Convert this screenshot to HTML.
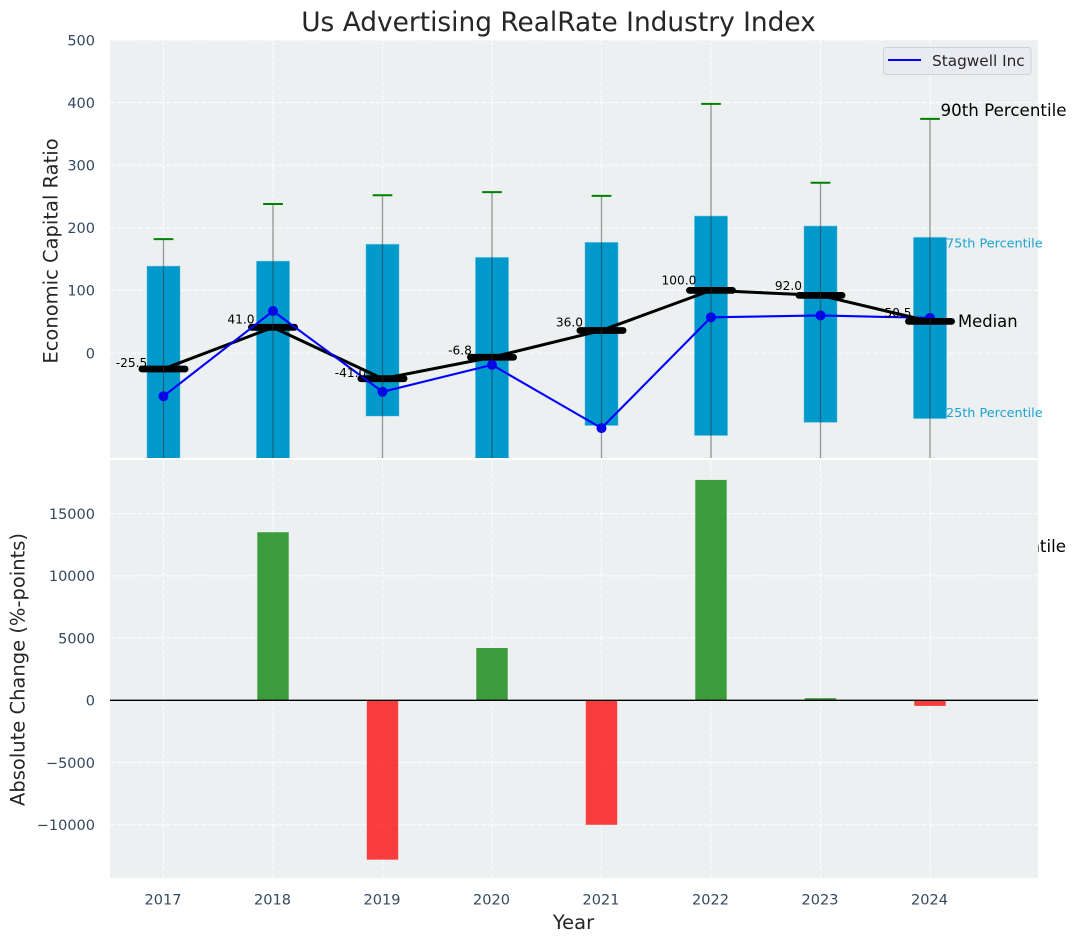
<!DOCTYPE html>
<html>
<head>
<meta charset="utf-8">
<title>Us Advertising RealRate Industry Index</title>
<style>
html,body{margin:0;padding:0;background:#fff;width:1076px;height:942px;overflow:hidden}
svg{display:block;font-family:"DejaVu Sans","Liberation Sans",sans-serif}
</style>
</head>
<body>
<svg id="chart" xmlns="http://www.w3.org/2000/svg" width="1076" height="942" viewBox="0 0 1076 942">
  <defs><clipPath id="top-clip"><rect x="110" y="40" width="928" height="418"/></clipPath></defs>
  <rect x="0" y="0" width="1076" height="942" fill="#ffffff"/>
  <text x="558.5" y="31" text-anchor="middle" font-size="26.4" fill="#262626">Us Advertising RealRate Industry Index</text>
  <g id="top-panel"></g>
  <g id="bottom-panel"></g>
  <text transform="translate(57.5,251) rotate(-90)" text-anchor="middle" font-size="19.5" fill="#262626">Economic Capital Ratio</text>
  <text transform="translate(24.5,669.5) rotate(-90)" text-anchor="middle" font-size="19.5" fill="#262626">Absolute Change (%-points)</text>
  <text x="573.5" y="929" text-anchor="middle" font-size="19.5" fill="#262626">Year</text>
</svg>
<script>
const years = [2017, 2018, 2019, 2020, 2021, 2022, 2023, 2024];
const p90 = [182, 238, 252, 257, 251, 398, 272, 374];
const p75 = [139, 147, 174, 153, 177, 219, 203, 185];
const medians = [-25.5, 41, -41, -6.8, 36, 100, 92, 50.5];
const p25 = [-190, -180, -101, -185, -116, -132, -111, -105];
const p10 = [-300, -300, -300, -300, -300, -300, -300, -300];
const companyValues = [-69, 67, -62, -19, -120, 57, 60, 56];
const changeValues = [null, 13500, -12800, 4200, -10000, 17700, 170, -450];
const topTicks = [0, 100, 200, 300, 400, 500];
const bottomTicks = [-10000, -5000, 0, 5000, 10000, 15000];
const seriesName = 'Stagwell Inc';

const NS = 'http://www.w3.org/2000/svg';
const L = 110, R = 1038;
const TT = 40, TB = 458, BT = 460, BB = 878;
const BOX_W = 0.305, BAR_W = 0.287, CAP_W = 0.09, MED_W = 0.197;
const xPerYear = 109.5;
const x = y => 163.5 + xPerYear * (y - 2017);
const yTop = v => 353 - 0.626 * v;
const yBot = v => 700.3 - 0.01245 * v;
const fmt = v => String(v).replace('-', '\u2212');

function add(parent, tag, attrs, text) {
  const el = document.createElementNS(NS, tag);
  for (const k in attrs) el.setAttribute(k, attrs[k]);
  if (text !== undefined) el.textContent = text;
  parent.appendChild(el);
  return el;
}

function mark(el, name) {
  
  
  return el;
}

const topPanel = document.getElementById('top-panel');
const bottomPanel = document.getElementById('bottom-panel');

/* ---------- top panel background and grid ---------- */
mark(add(topPanel, 'rect', {x: L, y: TT, width: R - L, height: TB - TT, fill: '#ecf0f1'}), 'top-plot-area');
topTicks.forEach(t => {
  mark(add(topPanel, 'line', {x1: L, x2: R, y1: yTop(t), y2: yTop(t), stroke: '#fff', 'stroke-opacity': 0.85, 'stroke-width': 1.1, 'stroke-dasharray': '5 2'}), 'top-grid-line-' + t);
  mark(add(topPanel, 'text', {x: 95, y: yTop(t) + 5.3, 'text-anchor': 'end', 'font-size': 14.5, fill: '#34495e'}, fmt(t)), 'top-y-tick-' + t);
});
years.forEach(y => {
  mark(add(topPanel, 'line', {x1: x(y), x2: x(y), y1: TT, y2: TB, stroke: '#fff', 'stroke-opacity': 0.85, 'stroke-width': 1.1, 'stroke-dasharray': '5 2'}), 'top-grid-vertical-' + y);
});

/* ---------- percentile boxes ---------- */
const plot = add(topPanel, 'g', {'clip-path': 'url(#top-clip)'});
mark(plot, 'percentile-series');
years.forEach((y, i) => {
  const w = BOX_W * xPerYear;
  mark(add(plot, 'rect', {x: x(y) - w / 2, y: yTop(p75[i]), width: w, height: yTop(p25[i]) - yTop(p75[i]), fill: '#0099cc', stroke: '#a8d8ea', 'stroke-width': 0.6}), 'percentile-box-' + y);
});

/* ---------- median connector and bars ---------- */
const medPts = years.map((y, i) => x(y) + ',' + yTop(medians[i]));
mark(add(plot, 'polyline', {points: medPts.slice(0, 7).join(' '), fill: 'none', stroke: '#000', 'stroke-width': 3}), 'median-line');
years.forEach((y, i) => {
  if (i === years.length - 1) return;
  const w = MED_W * xPerYear;
  mark(add(plot, 'line', {x1: x(y) - w, x2: x(y) + w, y1: yTop(medians[i]), y2: yTop(medians[i]), stroke: '#000', 'stroke-width': 6.8, 'stroke-linecap': 'round'}), 'median-bar-' + y);
});
years.forEach((y, i) => {
  mark(add(topPanel, 'text', {x: x(y) - 32, y: yTop(medians[i]) - 2.9 - 0.028 * medians[i], 'text-anchor': 'middle', 'font-size': 12.2, fill: '#000'}, medians[i].toFixed(1)), 'median-value-' + y);
});

/* ---------- company series ---------- */
mark(add(plot, 'polyline', {points: years.map((y, i) => x(y) + ',' + yTop(companyValues[i])).join(' '), fill: 'none', stroke: '#0000ff', 'stroke-width': 2.1}), 'company-line');
years.forEach((y, i) => {
  mark(add(plot, 'circle', {cx: x(y), cy: yTop(companyValues[i]), r: 5, fill: '#0000ff'}), 'company-point-' + y);
});

/* ---------- last median segment sits above the company series ---------- */
mark(add(plot, 'polyline', {points: medPts.slice(6).join(' '), fill: 'none', stroke: '#000', 'stroke-width': 3}), 'median-line-last-segment');
{
  const i = years.length - 1, w = MED_W * xPerYear;
  mark(add(plot, 'line', {x1: x(years[i]) - w, x2: x(years[i]) + w, y1: yTop(medians[i]), y2: yTop(medians[i]), stroke: '#000', 'stroke-width': 6.8, 'stroke-linecap': 'round'}), 'median-bar-' + years[i]);
}

/* ---------- whiskers and caps ---------- */
years.forEach((y, i) => {
  mark(add(plot, 'line', {x1: x(y), x2: x(y), y1: yTop(p90[i]), y2: yTop(p10[i]), stroke: '#333', 'stroke-opacity': 0.5, 'stroke-width': 1.3}), 'whisker-' + y);
  const c = CAP_W * xPerYear;
  mark(add(plot, 'line', {x1: x(y) - c, x2: x(y) + c, y1: yTop(p90[i]), y2: yTop(p90[i]), stroke: '#008000', 'stroke-width': 2}), 'p90-cap-' + y);
});

/* ---------- annotations on last year ---------- */
const last = years.length - 1;
const lastX = x(years[last]);
mark(add(topPanel, 'text', {x: lastX + 10.5, y: yTop(p90[last]) - 3, 'font-size': 16.7, fill: '#000'}, '90th Percentile'), 'p90-annotation');
mark(add(topPanel, 'text', {x: lastX + 28, y: yTop(medians[last]) + 5.5, 'font-size': 16.4, fill: '#000'}, 'Median'), 'median-annotation');
mark(add(topPanel, 'text', {x: lastX + 16, y: yTop(p75[last]) + 10.5, 'font-size': 12.8, fill: '#1aa3d1'}, '75th Percentile'), 'p75-annotation');
mark(add(topPanel, 'text', {x: lastX + 16, y: yTop(p25[last]) - 1.5, 'font-size': 12.8, fill: '#1aa3d1'}, '25th Percentile'), 'p25-annotation');
/* annotation overflowing behind the lower panel */
mark(add(topPanel, 'text', {x: lastX + 10, y: 552, 'font-size': 16.7, fill: '#000'}, '90th Percentile'), 'overflow-annotation');

/* ---------- legend ---------- */
const legend = mark(add(topPanel, 'g', {}), 'legend');
mark(add(legend, 'rect', {x: 883.5, y: 47.5, width: 147.5, height: 27, rx: 3, fill: '#e9ebf1', stroke: '#cfd2d6', 'stroke-width': 1}), 'legend-box');
mark(add(legend, 'line', {x1: 888, x2: 921, y1: 60, y2: 60, stroke: '#0000ff', 'stroke-width': 2}), 'legend-line');
mark(add(legend, 'text', {x: 932, y: 66, 'font-size': 15.3, fill: '#262626'}, seriesName), 'legend-entry');

/* ---------- bottom panel ---------- */
mark(add(bottomPanel, 'rect', {x: L, y: BT, width: R - L, height: BB - BT, fill: '#ecf0f1'}), 'bottom-plot-area');
bottomTicks.forEach(t => {
  mark(add(bottomPanel, 'line', {x1: L, x2: R, y1: yBot(t), y2: yBot(t), stroke: '#fff', 'stroke-opacity': 0.85, 'stroke-width': 1.1, 'stroke-dasharray': '5 2'}), 'bottom-grid-line-' + t);
  mark(add(bottomPanel, 'text', {x: 95, y: yBot(t) + 5.3, 'text-anchor': 'end', 'font-size': 14.5, fill: '#34495e'}, fmt(t)), 'bottom-y-tick-' + t);
});
years.forEach(y => {
  mark(add(bottomPanel, 'line', {x1: x(y), x2: x(y), y1: BT, y2: BB, stroke: '#fff', 'stroke-opacity': 0.85, 'stroke-width': 1.1, 'stroke-dasharray': '5 2'}), 'bottom-grid-vertical-' + y);
  mark(add(bottomPanel, 'text', {x: x(y) - 0.5, y: 904.3, 'text-anchor': 'middle', 'font-size': 14.5, fill: '#34495e'}, String(y)), 'x-tick-' + y);
});
years.forEach((y, i) => {
  const v = changeValues[i];
  if (v === null) return;
  const w = BAR_W * xPerYear;
  mark(add(bottomPanel, 'rect', {x: x(y) - w / 2, y: Math.min(yBot(v), yBot(0)), width: w, height: Math.abs(yBot(v) - yBot(0)), fill: v >= 0 ? '#008000' : '#ff0000', 'fill-opacity': 0.75}), 'change-bar-' + y);
});
mark(add(bottomPanel, 'line', {x1: L, x2: R, y1: yBot(0), y2: yBot(0), stroke: '#000', 'stroke-width': 1.4}), 'zero-line');
</script>
</body>
</html>
